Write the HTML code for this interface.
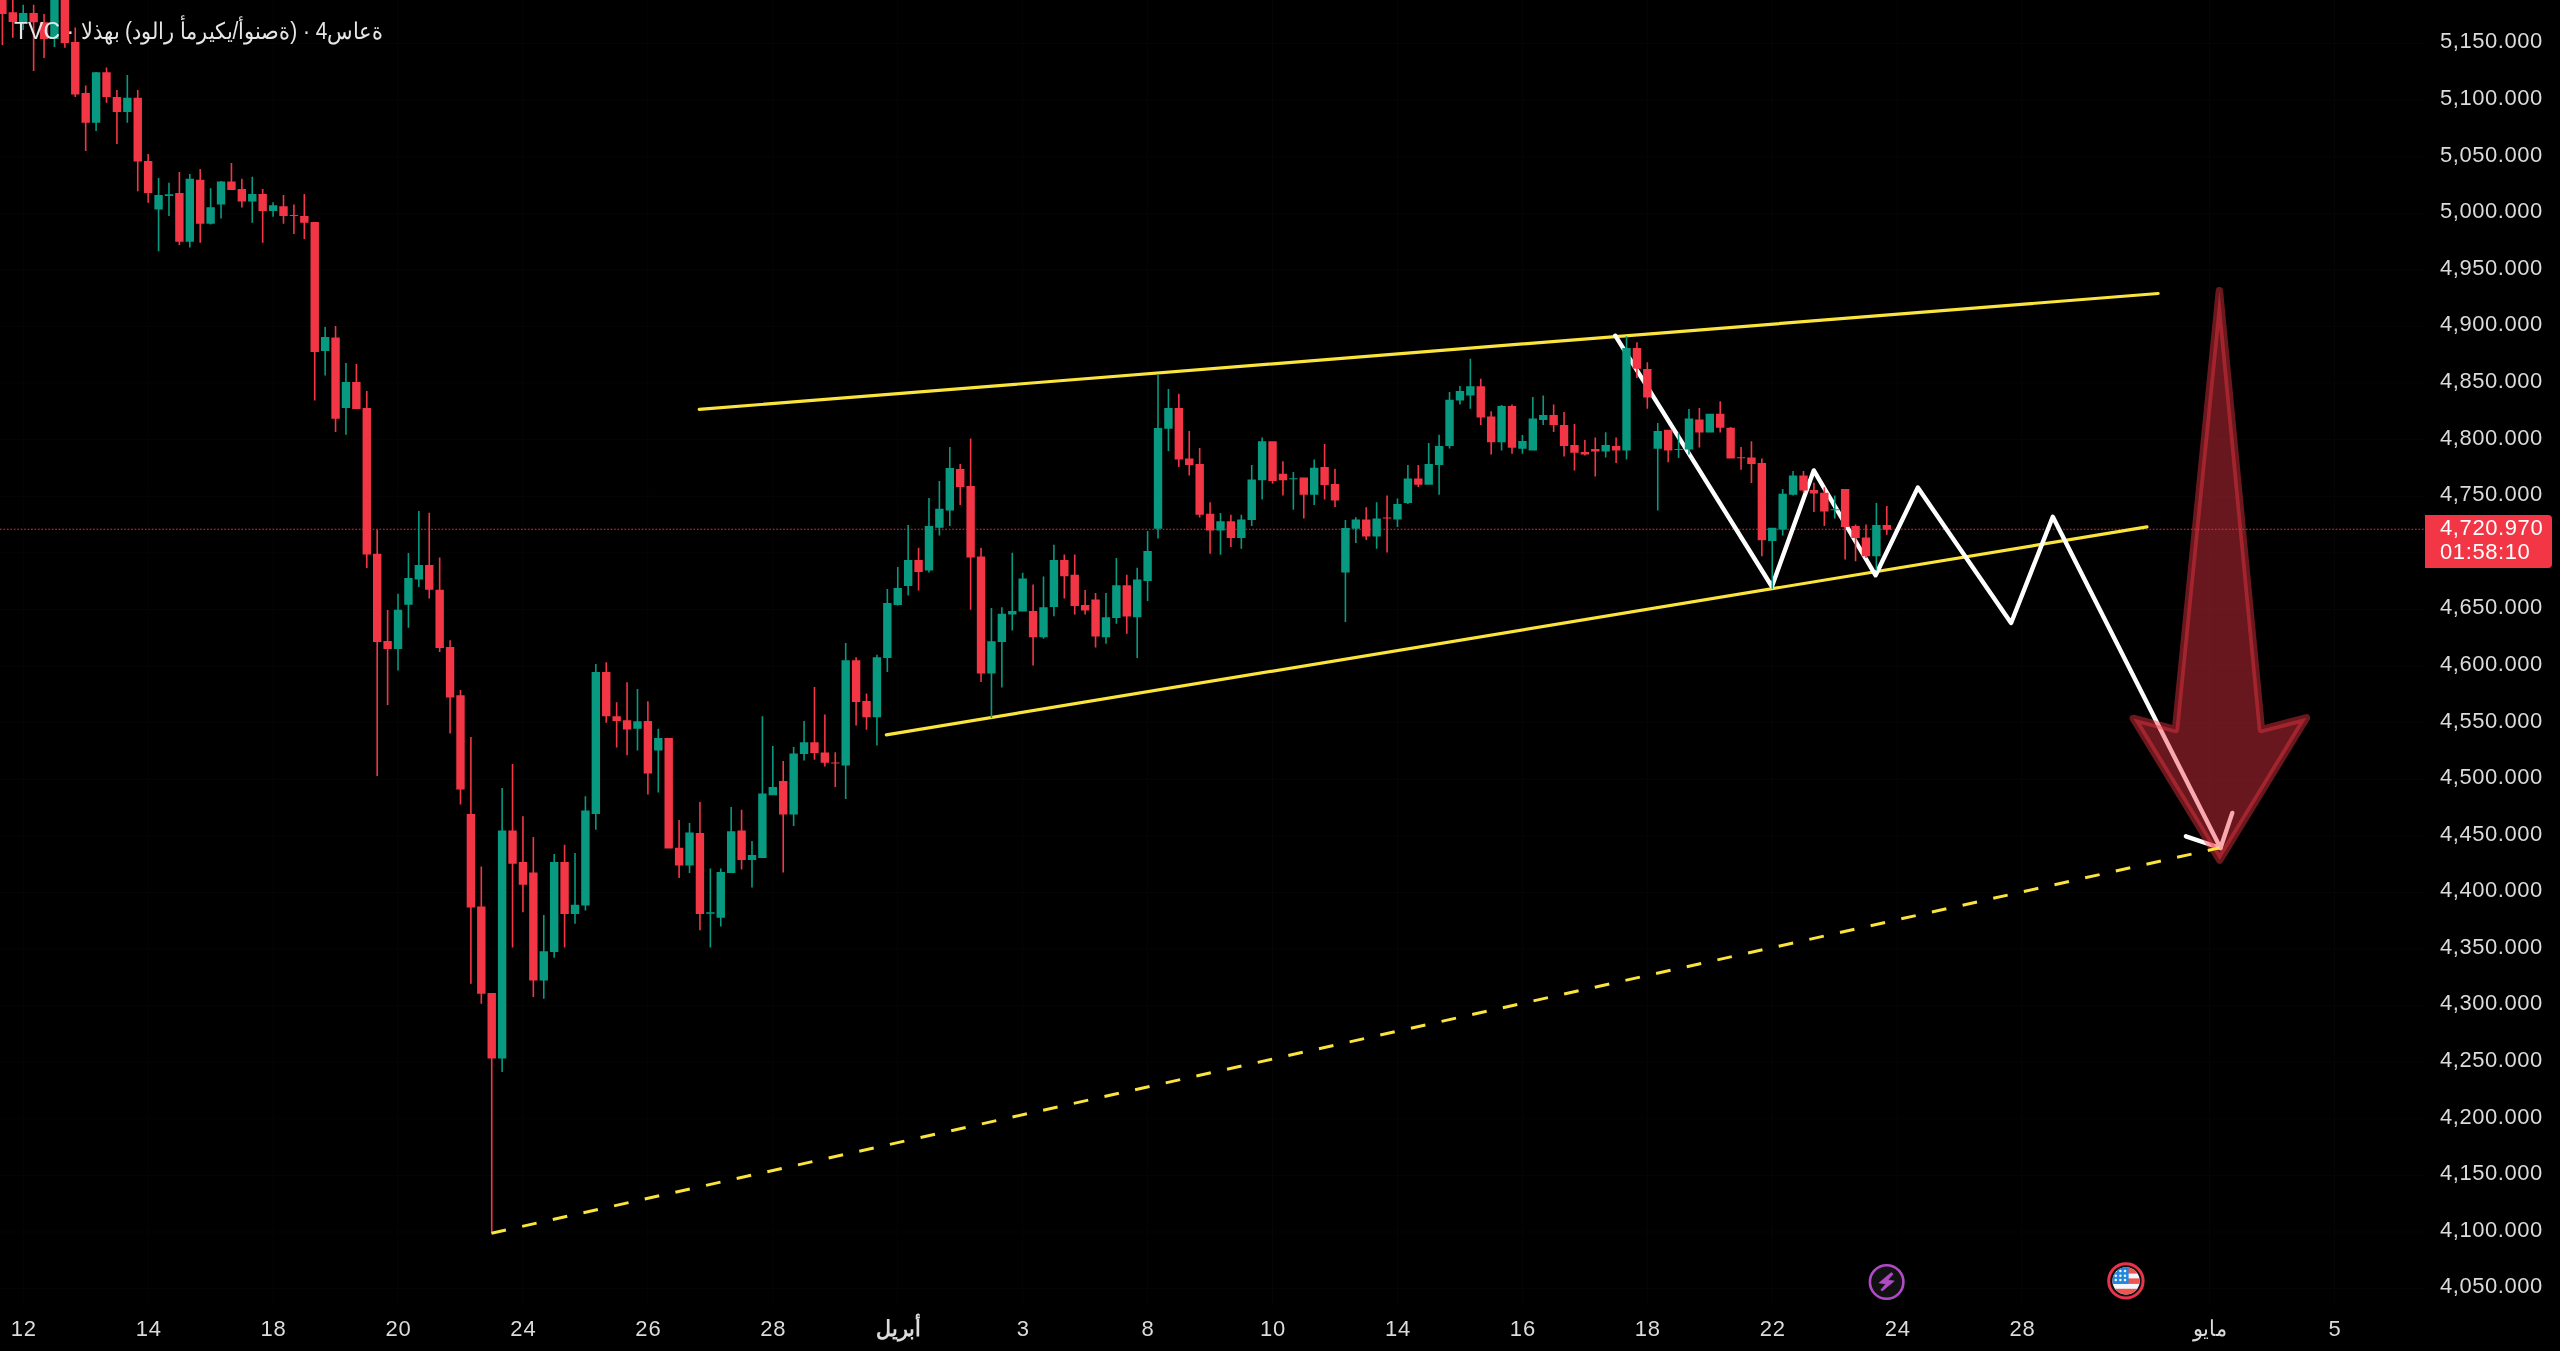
<!DOCTYPE html><html><head><meta charset="utf-8"><style>html,body{margin:0;padding:0;background:#000;width:2560px;height:1351px;overflow:hidden}svg{display:block}text{will-change:transform}#ttl,.tt{will-change:transform}text{font-family:"Liberation Sans",sans-serif}</style></head><body>
<svg width="2560" height="1351" viewBox="0 0 2560 1351">
<rect width="2560" height="1351" fill="#000"/>
<path d="M0 1288.6H2424 M0 1232.0H2424 M0 1175.4H2424 M0 1118.8H2424 M0 1062.2H2424 M0 1005.6H2424 M0 949.0H2424 M0 892.5H2424 M0 835.9H2424 M0 779.3H2424 M0 722.7H2424 M0 666.1H2424 M0 609.5H2424 M0 552.9H2424 M0 496.3H2424 M0 439.7H2424 M0 383.1H2424 M0 326.6H2424 M0 270.0H2424 M0 213.4H2424 M0 156.8H2424 M0 100.2H2424 M0 43.6H2424 M23.2 0V1303 M148.2 0V1303 M273.1 0V1303 M398.0 0V1303 M522.9 0V1303 M647.9 0V1303 M772.8 0V1303 M897.7 0V1303 M1022.7 0V1303 M1147.6 0V1303 M1272.5 0V1303 M1397.5 0V1303 M1522.4 0V1303 M1647.3 0V1303 M1772.3 0V1303 M1897.2 0V1303 M2022.1 0V1303 M2209.5 0V1303 M2334.5 0V1303" stroke="#050505" stroke-width="1" fill="none"/>
<line x1="0" y1="529.3" x2="2424" y2="529.3" stroke="#d93040" stroke-width="1.1" stroke-dasharray="1.7 1.75"/>
<g stroke="#fbe43b" stroke-width="3.2" stroke-linecap="round" fill="none">
<line x1="699.2" y1="409.4" x2="2158.1" y2="293.5"/>
<line x1="886.3" y1="734.8" x2="2147" y2="526.9"/>
</g>
<path d="M1615.3 335.7 L1771.9 586.5 L1813.75 470.4 L1875.6 575.3 L1917.8 487.6 L2011.1 623 L2052.8 516.7 L2220.5 848" stroke="#fff" stroke-width="4.4" stroke-linejoin="round" stroke-linecap="round" fill="none"/>
<path d="M2185.9 836.3 L2220.5 848 L2232.3 812.9" stroke="#fff" stroke-width="4.4" stroke-linejoin="round" stroke-linecap="round" fill="none"/>
<path d="M1.60 -2.00H3.20V45.00H1.60ZM-1.80 0.00H6.60V14.00H-1.80ZM12.01 0.00H13.61V37.80H12.01ZM8.61 12.20H17.01V21.90H8.61ZM32.83 4.70H34.43V71.00H32.83ZM29.43 13.10H37.83V22.20H29.43ZM43.24 14.00H44.84V58.00H43.24ZM39.84 22.20H48.24V39.00H39.84ZM64.07 -2.00H65.67V47.80H64.07ZM60.67 -2.00H69.07V43.00H60.67ZM74.48 27.50H76.08V97.00H74.48ZM71.08 41.90H79.48V94.40H71.08ZM84.89 85.60H86.49V151.00H84.89ZM81.49 93.10H89.89V122.80H81.49ZM105.71 67.50H107.31V102.70H105.71ZM102.31 72.20H110.71V96.90H102.31ZM116.12 90.10H117.72V144.00H116.12ZM112.72 96.90H121.12V112.00H112.72ZM136.94 90.10H138.54V191.30H136.94ZM133.54 97.70H141.94V161.60H133.54ZM147.35 154.00H148.95V202.70H147.35ZM143.95 161.10H152.35V192.90H143.95ZM178.59 172.10H180.19V244.90H178.59ZM175.19 192.90H183.59V241.70H175.19ZM199.41 169.00H201.01V242.80H199.41ZM196.01 179.80H204.41V223.80H196.01ZM230.64 163.00H232.24V190.00H230.64ZM227.24 181.60H235.64V190.00H227.24ZM241.05 178.80H242.65V207.60H241.05ZM237.65 189.00H246.05V201.60H237.65ZM261.87 189.00H263.47V242.80H261.87ZM258.47 193.90H266.87V211.10H258.47ZM282.70 195.00H284.30V223.80H282.70ZM279.30 206.20H287.70V216.00H279.30ZM293.11 204.50H294.71V234.00H293.11ZM289.71 215.00H298.11V216.00H289.71ZM303.52 193.90H305.12V238.90H303.52ZM300.12 216.00H308.52V222.70H300.12ZM313.93 221.90H315.53V400.60H313.93ZM310.53 221.90H318.93V351.90H310.53ZM334.75 326.00H336.35V431.90H334.75ZM331.35 337.50H339.75V418.75H331.35ZM355.57 364.00H357.17V409.00H355.57ZM352.17 382.10H360.57V409.00H352.17ZM365.98 391.00H367.58V567.90H365.98ZM362.58 407.90H370.98V554.60H362.58ZM376.40 529.40H378.00V776.00H376.40ZM373.00 553.75H381.40V642.10H373.00ZM386.81 610.00H388.41V705.00H386.81ZM383.41 641.00H391.81V649.00H383.41ZM428.45 512.75H430.05V598.50H428.45ZM425.05 565.00H433.45V589.75H425.05ZM438.86 557.50H440.46V651.90H438.86ZM435.46 589.75H443.86V647.90H435.46ZM449.27 640.25H450.87V733.50H449.27ZM445.87 647.10H454.27V697.50H445.87ZM459.68 690.00H461.28V804.60H459.68ZM456.28 695.25H464.68V789.60H456.28ZM470.09 736.90H471.69V983.75H470.09ZM466.69 814.10H475.09V907.50H466.69ZM480.51 866.60H482.11V1003.75H480.51ZM477.11 906.60H485.51V993.75H477.11ZM490.92 993.10H492.52V1233.60H490.92ZM487.52 993.10H495.92V1058.50H487.52ZM511.74 764.00H513.34V947.50H511.74ZM508.34 830.60H516.74V863.75H508.34ZM522.15 816.25H523.75V912.25H522.15ZM518.75 861.90H527.15V884.75H518.75ZM532.56 837.10H534.16V996.90H532.56ZM529.16 872.50H537.56V980.60H529.16ZM563.79 844.75H565.39V947.50H563.79ZM560.39 861.90H568.79V914.10H560.39ZM605.44 662.25H607.04V722.75H605.44ZM602.04 671.90H610.44V716.25H602.04ZM615.85 702.25H617.45V747.50H615.85ZM612.45 716.25H620.85V721.00H612.45ZM626.26 682.25H627.86V755.25H626.26ZM622.86 720.25H631.26V729.60H622.86ZM647.08 701.25H648.68V794.40H647.08ZM643.68 721.00H652.08V773.50H643.68ZM667.90 738.10H669.50V848.50H667.90ZM664.50 738.10H672.90V848.50H664.50ZM678.31 820.00H679.91V877.90H678.31ZM674.91 847.75H683.31V865.60H674.91ZM699.14 802.10H700.74V930.25H699.14ZM695.74 833.10H704.14V914.10H695.74ZM740.78 809.75H742.38V869.40H740.78ZM737.38 830.60H745.78V860.00H737.38ZM782.42 761.00H784.02V872.50H782.42ZM779.02 781.00H787.42V814.40H779.02ZM813.66 686.90H815.26V759.75H813.66ZM810.26 742.25H818.66V753.10H810.26ZM824.07 714.40H825.67V766.50H824.07ZM820.67 752.50H829.07V762.75H820.67ZM834.48 752.25H836.08V786.90H834.48ZM831.08 762.40H839.48V763.40H831.08ZM855.30 657.25H856.90V725.60H855.30ZM851.90 660.25H860.30V701.90H851.90ZM865.71 693.50H867.31V729.75H865.71ZM862.31 701.00H870.71V717.25H862.31ZM917.77 547.75H919.37V590.60H917.77ZM914.37 560.00H922.77V571.90H914.37ZM959.41 464.00H961.01V505.00H959.41ZM956.01 469.00H964.41V486.90H956.01ZM969.82 438.50H971.42V609.75H969.82ZM966.42 486.00H974.82V557.50H966.42ZM980.23 547.75H981.83V681.90H980.23ZM976.83 556.50H985.23V673.50H976.83ZM1032.29 584.40H1033.89V665.60H1032.29ZM1028.89 611.00H1037.29V637.25H1028.89ZM1063.52 554.40H1065.12V598.50H1063.52ZM1060.12 560.00H1068.52V576.25H1060.12ZM1073.93 554.40H1075.53V614.40H1073.93ZM1070.53 574.75H1078.93V606.00H1070.53ZM1084.34 590.00H1085.94V614.40H1084.34ZM1080.94 605.00H1089.34V610.60H1080.94ZM1094.76 593.10H1096.36V647.50H1094.76ZM1091.36 599.40H1099.76V636.50H1091.36ZM1125.99 574.75H1127.59V633.75H1125.99ZM1122.59 585.25H1130.99V616.50H1122.59ZM1178.04 393.75H1179.64V466.90H1178.04ZM1174.64 408.10H1183.04V459.60H1174.64ZM1188.45 431.00H1190.05V475.60H1188.45ZM1185.05 458.50H1193.45V465.00H1185.05ZM1198.87 448.10H1200.46V517.50H1198.87ZM1195.46 464.00H1203.87V514.75H1195.46ZM1209.28 502.25H1210.88V553.75H1209.28ZM1205.88 513.75H1214.28V530.60H1205.88ZM1230.10 514.75H1231.70V546.90H1230.10ZM1226.70 521.25H1235.10V538.10H1226.70ZM1271.74 441.25H1273.34V483.75H1271.74ZM1268.34 441.25H1276.74V481.00H1268.34ZM1282.15 461.25H1283.75V495.60H1282.15ZM1278.75 473.75H1287.15V480.25H1278.75ZM1302.98 477.50H1304.58V518.50H1302.98ZM1299.58 477.50H1307.98V494.75H1299.58ZM1323.80 444.00H1325.40V499.40H1323.80ZM1320.40 466.90H1328.80V485.00H1320.40ZM1334.21 468.75H1335.81V506.90H1334.21ZM1330.81 484.00H1339.21V500.60H1330.81ZM1365.44 507.25H1367.04V540.00H1365.44ZM1362.04 519.40H1370.44V536.50H1362.04ZM1386.26 495.60H1387.86V552.50H1386.26ZM1382.86 517.60H1391.26V518.60H1382.86ZM1417.50 465.00H1419.10V486.90H1417.50ZM1414.10 478.50H1422.50V484.75H1414.10ZM1479.96 378.75H1481.56V425.00H1479.96ZM1476.56 386.25H1484.96V417.50H1476.56ZM1490.37 411.25H1491.97V454.40H1490.37ZM1486.97 416.50H1495.37V442.25H1486.97ZM1511.20 404.40H1512.80V453.75H1511.20ZM1507.80 406.00H1516.20V447.75H1507.80ZM1552.84 404.40H1554.44V431.90H1552.84ZM1549.44 415.00H1557.84V425.00H1549.44ZM1563.25 411.90H1564.85V456.50H1563.25ZM1559.85 425.00H1568.25V446.00H1559.85ZM1573.66 424.00H1575.26V470.60H1573.66ZM1570.26 445.00H1578.66V452.75H1570.26ZM1584.07 440.00H1585.67V455.60H1584.07ZM1580.67 451.90H1589.07V454.40H1580.67ZM1594.48 437.50H1596.08V476.50H1594.48ZM1591.08 449.00H1599.48V451.50H1591.08ZM1615.31 437.50H1616.90V463.10H1615.31ZM1611.90 446.00H1620.31V450.60H1611.90ZM1636.13 342.25H1637.73V378.10H1636.13ZM1632.73 348.10H1641.13V368.75H1632.73ZM1646.54 362.25H1648.14V408.75H1646.54ZM1643.14 369.00H1651.54V397.50H1643.14ZM1667.36 429.75H1668.96V462.25H1667.36ZM1663.96 429.75H1672.36V450.60H1663.96ZM1698.59 408.00H1700.19V447.50H1698.59ZM1695.19 419.40H1703.59V432.50H1695.19ZM1719.41 401.25H1721.01V432.50H1719.41ZM1716.01 413.75H1724.41V427.75H1716.01ZM1729.83 426.90H1731.43V458.50H1729.83ZM1726.43 427.75H1734.83V458.50H1726.43ZM1740.24 446.90H1741.84V469.75H1740.24ZM1736.84 457.25H1745.24V458.25H1736.84ZM1750.65 441.25H1752.25V483.10H1750.65ZM1747.25 457.50H1755.65V464.00H1747.25ZM1761.06 458.50H1762.66V556.25H1761.06ZM1757.66 463.10H1766.06V540.25H1757.66ZM1802.70 471.00H1804.30V493.10H1802.70ZM1799.30 475.60H1807.70V490.60H1799.30ZM1813.11 482.75H1814.71V511.90H1813.11ZM1809.71 490.00H1818.11V493.50H1809.71ZM1823.53 487.25H1825.12V526.00H1823.53ZM1820.12 492.75H1828.53V511.50H1820.12ZM1844.35 489.00H1845.95V559.40H1844.35ZM1840.95 489.00H1849.35V526.90H1840.95ZM1854.76 524.40H1856.36V561.25H1854.76ZM1851.36 526.00H1859.76V538.10H1851.36ZM1865.17 524.40H1866.77V558.10H1865.17ZM1861.77 537.50H1870.17V556.25H1861.77ZM1885.99 506.00H1887.59V534.75H1885.99ZM1882.59 525.00H1890.99V529.75H1882.59Z" fill="#f23645"/>
<path d="M22.42 4.70H24.02V30.00H22.42ZM19.02 13.10H27.42V21.90H19.02ZM53.66 -2.00H55.25V47.00H53.66ZM50.25 -2.00H58.66V39.00H50.25ZM95.30 72.00H96.90V130.90H95.30ZM91.90 72.20H100.30V122.80H91.90ZM126.53 75.00H128.13V122.80H126.53ZM123.13 97.70H131.53V112.00H123.13ZM157.76 177.90H159.37V251.20H157.76ZM154.37 195.00H162.76V209.40H154.37ZM168.18 182.70H169.78V216.00H168.18ZM164.78 194.30H173.18V195.90H164.78ZM189.00 173.90H190.60V247.40H189.00ZM185.60 178.80H194.00V241.70H185.60ZM209.82 188.30H211.42V224.50H209.82ZM206.42 207.30H214.82V223.80H206.42ZM220.23 180.90H221.83V218.50H220.23ZM216.83 181.60H225.23V204.50H216.83ZM251.46 176.70H253.06V222.70H251.46ZM248.06 193.90H256.46V201.60H248.06ZM272.29 202.30H273.89V216.80H272.29ZM268.89 205.20H277.29V211.10H268.89ZM324.34 326.90H325.94V375.60H324.34ZM320.94 336.90H329.34V351.00H320.94ZM345.16 363.10H346.76V434.75H345.16ZM341.76 382.10H350.16V408.10H341.76ZM397.22 593.75H398.82V670.60H397.22ZM393.82 609.75H402.22V649.00H393.82ZM407.63 552.90H409.23V627.75H407.63ZM404.23 578.10H412.63V604.75H404.23ZM418.04 511.00H419.64V586.90H418.04ZM414.64 565.00H423.04V579.40H414.64ZM501.33 788.10H502.93V1072.00H501.33ZM497.93 830.60H506.33V1058.50H497.93ZM542.97 915.00H544.57V998.75H542.97ZM539.57 951.25H547.97V980.60H539.57ZM553.38 854.10H554.98V957.75H553.38ZM549.98 861.90H558.38V952.10H549.98ZM574.21 853.10H575.80V923.75H574.21ZM570.80 904.75H579.21V914.10H570.80ZM584.62 796.25H586.22V910.60H584.62ZM581.22 810.60H589.62V905.60H581.22ZM595.03 664.00H596.63V829.75H595.03ZM591.63 671.90H600.03V814.00H591.63ZM636.67 689.00H638.27V750.60H636.67ZM633.27 721.25H641.67V728.75H633.27ZM657.49 728.75H659.09V792.50H657.49ZM654.09 738.10H662.49V750.60H654.09ZM688.73 823.10H690.33V873.10H688.73ZM685.33 832.50H693.73V865.60H685.33ZM709.55 868.50H711.15V947.50H709.55ZM706.15 912.25H714.55V913.75H706.15ZM719.96 868.50H721.56V926.50H719.96ZM716.56 872.10H724.96V917.75H716.56ZM730.37 806.90H731.97V873.10H730.37ZM726.97 831.25H735.37V873.10H726.97ZM751.19 841.00H752.79V887.50H751.19ZM747.79 855.00H756.19V860.00H747.79ZM761.60 716.25H763.20V858.10H761.60ZM758.20 793.50H766.60V858.10H758.20ZM772.01 746.00H773.61V795.25H772.01ZM768.61 786.90H777.01V795.25H768.61ZM792.84 746.90H794.44V826.00H792.84ZM789.44 753.50H797.84V814.40H789.44ZM803.25 721.00H804.85V760.60H803.25ZM799.85 742.25H808.25V754.00H799.85ZM844.89 643.10H846.49V799.00H844.89ZM841.49 660.25H849.89V765.60H841.49ZM876.12 654.75H877.72V745.60H876.12ZM872.72 657.25H881.12V717.25H872.72ZM886.53 589.00H888.13V671.90H886.53ZM883.13 603.10H891.53V658.10H883.13ZM896.95 566.90H898.55V605.60H896.95ZM893.55 587.90H901.95V605.00H893.55ZM907.36 525.00H908.96V595.60H907.36ZM903.96 560.00H912.36V585.90H903.96ZM928.18 498.00H929.78V572.50H928.18ZM924.78 526.00H933.18V570.60H924.78ZM938.59 481.00H940.19V535.60H938.59ZM935.19 508.75H943.59V527.75H935.19ZM949.00 446.90H950.60V526.00H949.00ZM945.60 468.10H954.00V510.60H945.60ZM990.64 608.10H992.24V718.10H990.64ZM987.24 641.25H995.64V673.50H987.24ZM1001.06 607.25H1002.66V687.50H1001.06ZM997.66 613.75H1006.06V641.90H997.66ZM1011.47 552.75H1013.07V630.60H1011.47ZM1008.07 611.00H1016.47V614.40H1008.07ZM1021.88 572.75H1023.48V611.60H1021.88ZM1018.48 578.50H1026.88V611.60H1018.48ZM1042.70 576.50H1044.30V638.75H1042.70ZM1039.30 607.25H1047.70V637.25H1039.30ZM1053.11 544.75H1054.71V616.25H1053.11ZM1049.71 560.00H1058.11V606.90H1049.71ZM1105.17 593.10H1106.77V643.75H1105.17ZM1101.77 617.25H1110.17V637.25H1101.77ZM1115.58 558.10H1117.18V623.75H1115.58ZM1112.18 585.25H1120.58V618.10H1112.18ZM1136.40 567.75H1138.00V658.10H1136.40ZM1133.00 579.40H1141.40V617.25H1133.00ZM1146.81 531.00H1148.41V601.00H1146.81ZM1143.41 551.00H1151.81V581.00H1143.41ZM1157.22 374.40H1158.82V538.50H1157.22ZM1153.82 428.10H1162.22V528.75H1153.82ZM1167.63 389.00H1169.23V451.00H1167.63ZM1164.23 408.10H1172.63V428.75H1164.23ZM1219.69 512.90H1221.29V554.75H1219.69ZM1216.29 521.25H1224.69V530.60H1216.29ZM1240.51 514.75H1242.11V548.75H1240.51ZM1237.11 519.40H1245.51V538.10H1237.11ZM1250.92 465.00H1252.52V526.00H1250.92ZM1247.52 479.40H1255.92V520.00H1247.52ZM1261.33 437.50H1262.93V499.40H1261.33ZM1257.93 441.25H1266.33V480.25H1257.93ZM1292.56 471.90H1294.16V509.75H1292.56ZM1289.16 478.25H1297.56V479.25H1289.16ZM1313.39 459.40H1314.99V505.00H1313.39ZM1309.99 467.75H1318.39V494.75H1309.99ZM1344.62 520.00H1346.22V621.90H1344.62ZM1341.22 528.10H1349.62V572.50H1341.22ZM1355.03 517.25H1356.63V543.10H1355.03ZM1351.63 519.40H1360.03V528.75H1351.63ZM1375.85 502.25H1377.45V548.75H1375.85ZM1372.45 518.50H1380.85V536.50H1372.45ZM1396.67 498.50H1398.27V526.90H1396.67ZM1393.27 504.00H1401.67V519.40H1393.27ZM1407.09 465.00H1408.68V504.00H1407.09ZM1403.68 478.50H1412.09V503.10H1403.68ZM1427.91 443.10H1429.51V484.75H1427.91ZM1424.51 464.00H1432.91V484.75H1424.51ZM1438.32 434.75H1439.92V494.75H1438.32ZM1434.92 446.00H1443.32V465.00H1434.92ZM1448.73 391.90H1450.33V448.50H1448.73ZM1445.33 399.75H1453.73V446.00H1445.33ZM1459.14 386.00H1460.74V404.40H1459.14ZM1455.74 391.00H1464.14V400.60H1455.74ZM1469.55 358.75H1471.15V408.75H1469.55ZM1466.15 386.25H1474.55V395.60H1466.15ZM1500.78 405.00H1502.38V450.60H1500.78ZM1497.38 406.00H1505.78V442.25H1497.38ZM1521.61 435.00H1523.21V453.75H1521.61ZM1518.21 441.00H1526.61V448.75H1518.21ZM1532.02 396.90H1533.62V450.60H1532.02ZM1528.62 418.50H1537.02V450.60H1528.62ZM1542.43 395.60H1544.03V425.00H1542.43ZM1539.03 415.00H1547.43V420.00H1539.03ZM1604.89 432.25H1606.49V457.50H1604.89ZM1601.49 445.00H1609.89V451.50H1601.49ZM1625.72 336.25H1627.32V459.40H1625.72ZM1622.32 348.10H1630.72V450.60H1622.32ZM1656.95 423.00H1658.55V510.60H1656.95ZM1653.55 431.00H1661.95V448.75H1653.55ZM1677.77 433.10H1679.37V458.10H1677.77ZM1674.37 448.90H1682.77V449.90H1674.37ZM1688.18 409.00H1689.78V454.40H1688.18ZM1684.78 418.50H1693.18V449.40H1684.78ZM1709.00 413.75H1710.60V432.50H1709.00ZM1705.60 413.75H1714.00V432.50H1705.60ZM1771.47 527.75H1773.07V588.75H1771.47ZM1768.07 527.75H1776.47V541.00H1768.07ZM1781.88 489.00H1783.48V535.60H1781.88ZM1778.48 493.75H1786.88V529.40H1778.48ZM1792.29 471.00H1793.89V495.60H1792.29ZM1788.89 475.60H1797.29V494.75H1788.89ZM1833.94 495.60H1835.54V518.50H1833.94ZM1830.54 509.25H1838.94V510.25H1830.54ZM1875.58 503.10H1877.18V570.60H1875.58ZM1872.18 525.00H1880.58V556.25H1872.18Z" fill="#089981"/>
<path d="M2219.4 290.6 L2261.4 729.5 L2306.5 717.8 L2219.7 860.1 L2133.3 718.4 L2175.5 729.5Z" fill="rgba(242,54,69,0.43)" stroke="rgba(242,54,69,0.44)" stroke-width="7.4" stroke-linejoin="round"/>
<line x1="491.5" y1="1233.2" x2="2219.4" y2="847.9" stroke="#fbe43b" stroke-width="3" stroke-dasharray="14.8 16.6"/>
<g fill="#dbdbdb" font-size="22" letter-spacing="0.55"><text x="2542.9" y="1293.4" text-anchor="end">4,050.000</text><text x="2542.9" y="1236.8" text-anchor="end">4,100.000</text><text x="2542.9" y="1180.2" text-anchor="end">4,150.000</text><text x="2542.9" y="1123.6" text-anchor="end">4,200.000</text><text x="2542.9" y="1067.0" text-anchor="end">4,250.000</text><text x="2542.9" y="1010.4" text-anchor="end">4,300.000</text><text x="2542.9" y="953.8" text-anchor="end">4,350.000</text><text x="2542.9" y="897.2" text-anchor="end">4,400.000</text><text x="2542.9" y="840.7" text-anchor="end">4,450.000</text><text x="2542.9" y="784.1" text-anchor="end">4,500.000</text><text x="2542.9" y="727.5" text-anchor="end">4,550.000</text><text x="2542.9" y="670.9" text-anchor="end">4,600.000</text><text x="2542.9" y="614.3" text-anchor="end">4,650.000</text><text x="2542.9" y="501.1" text-anchor="end">4,750.000</text><text x="2542.9" y="444.5" text-anchor="end">4,800.000</text><text x="2542.9" y="387.9" text-anchor="end">4,850.000</text><text x="2542.9" y="331.4" text-anchor="end">4,900.000</text><text x="2542.9" y="274.8" text-anchor="end">4,950.000</text><text x="2542.9" y="218.2" text-anchor="end">5,000.000</text><text x="2542.9" y="161.6" text-anchor="end">5,050.000</text><text x="2542.9" y="105.0" text-anchor="end">5,100.000</text><text x="2542.9" y="48.4" text-anchor="end">5,150.000</text></g>
<path d="M2425 515H2548A4 4 0 0 1 2552 519V564A4 4 0 0 1 2548 568H2425Z" fill="#f23645"/>
<g fill="#fff" font-size="22" letter-spacing="0.6"><text x="2440" y="535">4,720.970</text><text x="2440" y="559">01:58:10</text></g>
<g fill="#dbdbdb" font-size="22" letter-spacing="0.8"><text x="23.7" y="1335.6" text-anchor="middle">12</text><text x="148.7" y="1335.6" text-anchor="middle">14</text><text x="273.6" y="1335.6" text-anchor="middle">18</text><text x="398.5" y="1335.6" text-anchor="middle">20</text><text x="523.4" y="1335.6" text-anchor="middle">24</text><text x="648.4" y="1335.6" text-anchor="middle">26</text><text x="773.3" y="1335.6" text-anchor="middle">28</text><text x="898.2" y="1335.6" text-anchor="middle" font-weight="bold" textLength="44" lengthAdjust="spacingAndGlyphs" letter-spacing="0">أبريل</text><text x="1023.2" y="1335.6" text-anchor="middle">3</text><text x="1148.1" y="1335.6" text-anchor="middle">8</text><text x="1273.0" y="1335.6" text-anchor="middle">10</text><text x="1398.0" y="1335.6" text-anchor="middle">14</text><text x="1522.9" y="1335.6" text-anchor="middle">16</text><text x="1647.8" y="1335.6" text-anchor="middle">18</text><text x="1772.8" y="1335.6" text-anchor="middle">22</text><text x="1897.7" y="1335.6" text-anchor="middle">24</text><text x="2022.6" y="1335.6" text-anchor="middle">28</text><text x="2210.0" y="1335.6" text-anchor="middle" textLength="34" lengthAdjust="spacingAndGlyphs" letter-spacing="0">مايو</text><text x="2335.0" y="1335.6" text-anchor="middle">5</text></g>
<circle cx="1886.65" cy="1282" r="16.75" fill="#111" stroke="#b04ac6" stroke-width="2.6"/>
<path d="M1891.3 1272.6 L1893.1 1274 L1887.9 1280.1 L1894.3 1281 L1882.4 1290.9 L1880.7 1290 L1885.8 1283.9 L1878.9 1282.9 Z" fill="#b04ac6" stroke="#b04ac6" stroke-width="0.6" stroke-linejoin="round"/>
<defs><clipPath id="fc"><circle cx="2126.1" cy="1280.9" r="13.6"/></clipPath></defs>
<circle cx="2125.9" cy="1280.9" r="17.2" fill="#111" stroke="#e8334a" stroke-width="3"/>
<g clip-path="url(#fc)"><rect x="2110" y="1265" width="32" height="32" fill="#f3f6fc"/><rect x="2110" y="1265" width="32" height="8.6" fill="#ee5550"/><rect x="2110" y="1278.4" width="32" height="5.5" fill="#ee5550"/><rect x="2110" y="1288.8" width="32" height="8.2" fill="#ee5550"/><rect x="2110" y="1265" width="18.6" height="18.9" fill="#2188e0"/><circle cx="2115.8" cy="1271.1" r="1.25" fill="#f3f6fc"/><circle cx="2120.4" cy="1271.1" r="1.25" fill="#f3f6fc"/><circle cx="2125" cy="1271.1" r="1.25" fill="#f3f6fc"/><circle cx="2115.8" cy="1275.7" r="1.25" fill="#f3f6fc"/><circle cx="2120.4" cy="1275.7" r="1.25" fill="#f3f6fc"/><circle cx="2125" cy="1275.7" r="1.25" fill="#f3f6fc"/><circle cx="2115.8" cy="1280.1" r="1.25" fill="#f3f6fc"/><circle cx="2120.4" cy="1280.1" r="1.25" fill="#f3f6fc"/><circle cx="2125" cy="1280.1" r="1.25" fill="#f3f6fc"/></g>
</svg>
<svg width="400" height="50" style="position:absolute;left:0;top:0"><g fill="#e6e6e6" font-size="23"><text x="14" y="39.4">TVC ·</text><text x="81" y="39.4" textLength="302" lengthAdjust="spacingAndGlyphs" style="unicode-bidi:bidi-override;direction:ltr">الذهب (دولار أمريكي/أونصة) · 4ساعة</text></g></svg>
</body></html>
